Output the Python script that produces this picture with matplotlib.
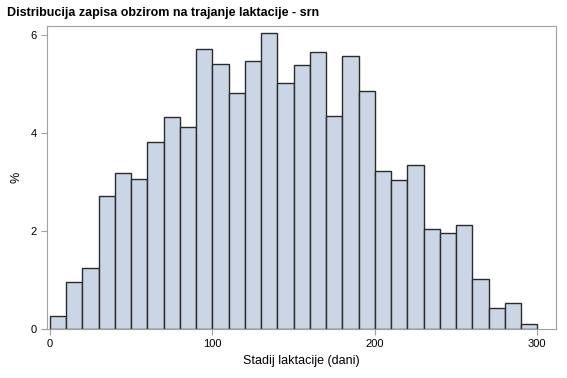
import matplotlib.pyplot as plt
import numpy as np

plt.rcParams['font.family'] = ['Liberation Sans', 'DejaVu Sans']

# bin edges (days) and percentage per bin
bin_left = np.arange(0, 300, 10)
percent = [0.27, 0.96, 1.25, 2.72, 3.19, 3.07, 3.81, 4.32, 4.12, 5.71,
           5.41, 4.83, 5.47, 6.04, 5.02, 5.39, 5.65, 4.36, 5.57, 4.87,
           3.22, 3.05, 3.34, 2.05, 1.95, 2.13, 1.02, 0.43, 0.53, 0.10]

fig = plt.figure(figsize=(5.67, 3.78), dpi=100)
ax = fig.add_axes([0.083, 0.13, 0.898, 0.80])

ax.bar(bin_left, percent, width=10, align='edge', color='#CAD5E5',
       edgecolor='#2b2b2b', linewidth=1.0)

ax.set_xlim(-1.8, 311.7)
ax.set_ylim(0, 6.18)
ax.set_xticks([0, 100, 200, 300])
ax.set_yticks([0, 2, 4, 6])
for s in ax.spines.values():
    s.set_color('#a0a0a0')
    s.set_linewidth(0.8)
ax.tick_params(colors='#a0a0a0', labelcolor='black', labelsize=8, length=4, width=0.8)

ax.set_xlabel('Stadij laktacije (dani)', fontsize=9)
ax.set_ylabel('%', fontsize=9)
ax.yaxis.set_label_coords(-0.048, 0.5)
fig.text(0.012, 0.965, 'Distribucija zapisa obzirom na trajanje laktacije - srn',
         fontsize=9, fontweight='bold', va='center', ha='left')

fig.savefig('out.png')
